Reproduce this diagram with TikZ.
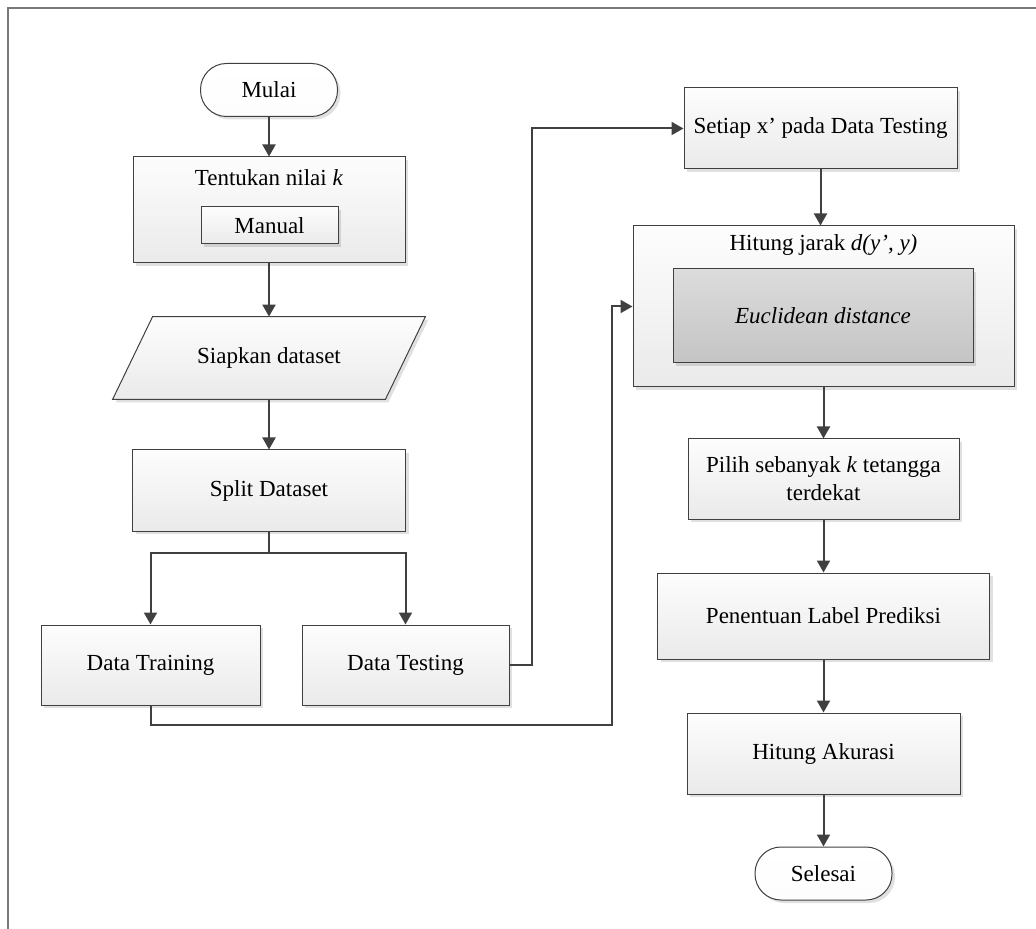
\documentclass[tikz,border=0pt]{standalone}
\usepackage{fontspec}
\setmainfont{Liberation Serif}
\usepackage{tikz}
\usetikzlibrary{arrows.meta, shadows, backgrounds}
\definecolor{linegray}{RGB}{64, 64, 64}
\definecolor{framegray}{RGB}{120, 120, 120}
\definecolor{boxtop}{RGB}{253, 253, 253}
\definecolor{boxbottom}{RGB}{234, 234, 234}
\definecolor{innertop}{RGB}{220, 220, 220}
\definecolor{innerbottom}{RGB}{196, 196, 196}

\begin{document}
\begin{tikzpicture}[
    x=0.5pt, y=-0.5pt,
    every node/.style={font=\fontsize{11.5}{14}\selectfont},
    proc/.style={rectangle, draw=linegray, line width=0.5pt, top color=boxtop, bottom color=boxbottom, drop shadow={shadow xshift=1.5pt, shadow yshift=-1.5pt, fill=black, opacity=0.12}, align=center, inner sep=0pt},
    euclid/.style={proc, top color=innertop, bottom color=innerbottom},
    term/.style={rectangle, rounded corners=13pt, draw=linegray, line width=0.5pt, top color=white, bottom color=boxtop, drop shadow={shadow xshift=1.5pt, shadow yshift=-1.5pt, fill=black, opacity=0.12}, minimum width=68.5pt, minimum height=26.5pt, inner sep=0pt},
    io/.style={draw=linegray, line width=0.5pt, top color=boxtop, bottom color=boxbottom, drop shadow={shadow xshift=1.5pt, shadow yshift=-1.5pt, fill=black, opacity=0.12}},
    title/.style={inner sep=0pt},
    arr/.style={-{Triangle[length=6pt, width=6.5pt]}, line width=1pt, linegray},
]
\useasboundingbox (0,0) rectangle (1036,929);

% bingkai
\draw[framegray, line width=0.75pt] (8,929) -- (8,8) -- (1036,8);

% kolom kiri
\node[term] (mulai) at (269, 90) {Mulai};
\node[proc, minimum width=136pt, minimum height=53pt] (tentukan) at (269, 210) {};
\node[title] (tentukantitle) at (269, 178) {Tentukan nilai \textit{k}};
\node[proc, minimum width=68.5pt, minimum height=18.5pt] (manual) at (269.5, 225.5) {Manual};
\node[minimum width=136pt, minimum height=41pt, inner sep=0pt] (siapkan) at (269, 358) {Siapkan dataset};
\begin{scope}[on background layer]
  \path[io] ([xshift=10pt]siapkan.north west) -- ([xshift=10pt]siapkan.north east)
    -- ([xshift=-10pt]siapkan.south east) -- ([xshift=-10pt]siapkan.south west) -- cycle;
\end{scope}
\node[proc, minimum width=136.5pt, minimum height=40.5pt] (split) at (269, 490.5) {Split Dataset};
\node[proc, minimum width=109.5pt, minimum height=40pt] (training) at (150.5, 665) {Data Training};
\node[proc, minimum width=103.5pt, minimum height=40pt] (testing) at (405.5, 665) {Data Testing};

% kolom kanan
\node[proc, minimum width=136.5pt, minimum height=40.5pt] (setiap) at (820.5, 128.5) {Setiap x’ pada Data Testing};
\node[proc, minimum width=190.5pt, minimum height=80.5pt] (hitung) at (823.5, 306.5) {};
\node[title] (hitungtitle) at (823.5, 245) {Hitung jarak \textit{d(y’, y)}};
\node[euclid, minimum width=150pt, minimum height=47pt] (euclidean) at (823, 316) {\textit{Euclidean distance}};
\node[proc, minimum width=135.5pt, minimum height=40pt] (pilih) at (823.5, 479) {Pilih sebanyak \textit{k} tetangga\\terdekat};
\node[proc, minimum width=166pt, minimum height=43pt] (penentuan) at (823.5, 616) {Penentuan Label Prediksi};
\node[proc, minimum width=136.5pt, minimum height=40.5pt] (akurasi) at (823.5, 753.5) {Hitung Akurasi};
\node[term] (selesai) at (823.5, 873.5) {Selesai};

\coordinate (jog) at (612, 725);

% alur kiri
\draw[arr] (mulai) -- (tentukan);
\draw[arr] (tentukan) -- (siapkan);
\draw[arr] (siapkan) -- (split);
\draw[arr] (split.south) -- ++(0,21) -| (training.north);
\draw[arr] (split.south) -- ++(0,21) -| (testing.north);

% penghubung ke kanan
\draw[arr] (testing.east) -- ++(22,0) |- (setiap.west);
\draw[arr] (training.south) |- (jog) |- (hitung.west);

% alur kanan
\draw[arr] (setiap) -- (setiap |- hitung.north);
\draw[arr] (hitung) -- (pilih);
\draw[arr] (pilih) -- (penentuan);
\draw[arr] (penentuan) -- (akurasi);
\draw[arr] (akurasi) -- (selesai);

\end{tikzpicture}
\end{document}
